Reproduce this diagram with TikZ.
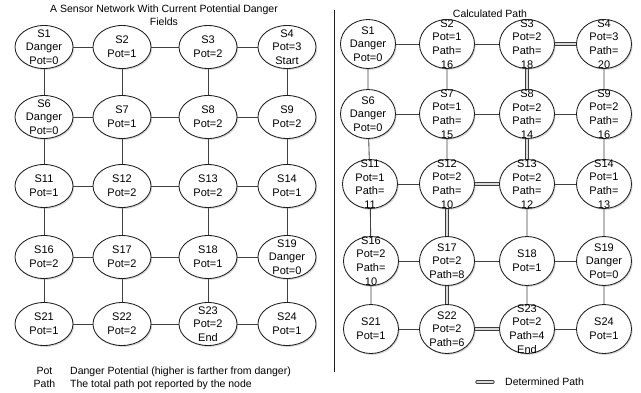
\documentclass[tikz,border=0pt]{standalone}
\usepackage{fontspec}
\setmainfont{Liberation Sans}
\usetikzlibrary{shapes.geometric,shadows,backgrounds}
\definecolor{colEdge}{HTML}{1E1E1E}
\definecolor{colLine}{HTML}{404040}
\definecolor{colRoute}{HTML}{3C3C3C}
\definecolor{colRouteIn}{HTML}{DADADA}
\def\nodefont{\fontsize{11pt}{13.6pt}\selectfont}
\def\capfont{\fontsize{10.5pt}{13.4pt}\selectfont}
\tikzset{
  sensor/.style={ellipse, draw=colEdge, line width=0.85pt, fill=white, inner sep=0pt,
    minimum width=58pt, minimum height=43pt,
    drop shadow={shadow xshift=1.2pt, shadow yshift=-1.4pt, opacity=0.3}},
  psensor/.style={sensor, minimum width=55pt, minimum height=49pt},
  link/.style={draw=colLine, line width=0.85pt},
  route/.style={draw=colRoute, line width=0.9pt, double=colRouteIn, double distance=1.5pt},
}
\newcommand{\lsens}[4]{%
  \node[sensor, label={[font=\nodefont, align=center]center:{#4}}] (#1) at (#2,#3) {};}
\newcommand{\rsens}[4]{%
  \node[psensor, label={[font=\nodefont, align=center]center:{#4}}] (#1) at (#2,#3) {};}

\begin{document}
\begin{tikzpicture}[x=1pt,y=-1pt]
\useasboundingbox (0,0) rectangle (641,392);

% ===================== LEFT: current potential danger fields =====================
\node[font=\capfont, align=center] (ltitle) at (164,15)
  {A Sensor Network With Current Potential Danger\\Fields};

\lsens{l1}{44}{47}{S1\\Danger\\Pot=0}
\lsens{l2}{122}{47}{S2\\Pot=1}
\lsens{l3}{208}{47}{S3\\Pot=2}
\lsens{l4}{287}{47}{S4\\Pot=3\\Start}

\lsens{l6}{44}{117}{S6\\Danger\\Pot=0}
\lsens{l7}{122}{117}{S7\\Pot=1}
\lsens{l8}{208}{117}{S8\\Pot=2}
\lsens{l9}{287}{117}{S9\\Pot=2}

\lsens{l11}{44}{186}{S11\\Pot=1}
\lsens{l12}{122}{186}{S12\\Pot=2}
\lsens{l13}{208}{186}{S13\\Pot=2}
\lsens{l14}{287}{186}{S14\\Pot=1}

\lsens{l16}{44}{257}{S16\\Pot=2}
\lsens{l17}{122}{257}{S17\\Pot=2}
\lsens{l18}{208}{257}{S18\\Pot=1}
\lsens{l19}{287}{257}{S19\\Danger\\Pot=0}

\lsens{l21}{44}{324}{S21\\Pot=1}
\lsens{l22}{122}{324}{S22\\Pot=2}
\lsens{l23}{208}{324}{S23\\Pot=2\\End}
\lsens{l24}{287}{324}{S24\\Pot=1}

\begin{scope}[on background layer]
\draw[link] (l1) -- (l2) (l2) -- (l3) (l3) -- (l4)
  (l6) -- (l7) (l7) -- (l8) (l8) -- (l9)
  (l11) -- (l12) (l12) -- (l13) (l13) -- (l14)
  (l16) -- (l17) (l17) -- (l18) (l18) -- (l19)
  (l21) -- (l22) (l22) -- (l23) (l23) -- (l24);
\draw[link] (l1) -- (l6) (l2) -- (l7) (l3) -- (l8) (l4) -- (l9)
  (l6) -- (l11) (l7) -- (l12) (l8) -- (l13) (l9) -- (l14)
  (l11) -- (l16) (l12) -- (l17) (l13) -- (l18) (l14) -- (l19)
  (l16) -- (l21) (l17) -- (l22) (l18) -- (l23) (l19) -- (l24);
\end{scope}

\node[font=\capfont, anchor=base] (kpot) at (44.5,374) {Pot};
\node[font=\capfont, anchor=base] (kpath) at (44.5,387) {Path};
\node[font=\capfont, anchor=base west, inner sep=0pt] (kpottxt) at (70,374)
  {Danger Potential (higher is farther from danger)};
\node[font=\capfont, anchor=base west, inner sep=0pt] (kpathtxt) at (70,387)
  {The total path pot reported by the node};

% ===================== divider =====================
\coordinate (divtop) at (334,10);
\coordinate (divbot) at (334,372);
\draw[colEdge, line width=0.8pt] (divtop) -- (divbot);

% ===================== RIGHT: calculated path =====================
\node[font=\capfont] (rtitle) at (490,14) {Calculated Path};

\rsens{r1}{368}{44}{S1\\Danger\\Pot=0}
\rsens{r2}{447}{44}{S2\\Pot=1\\Path=\\16}
\rsens{r3}{527}{44}{S3\\Pot=2\\Path=\\18}
\rsens{r4}{604}{44}{S4\\Pot=3\\Path=\\20}

\rsens{r6}{368}{114}{S6\\Danger\\Pot=0}
\rsens{r7}{447}{114}{S7\\Pot=1\\Path=\\15}
\rsens{r8}{527}{114}{S8\\Pot=2\\Path=\\14}
\rsens{r9}{604}{114}{S9\\Pot=2\\Path=\\16}

\rsens{r11}{370}{184}{S11\\Pot=1\\Path=\\11}
\rsens{r12}{447}{184}{S12\\Pot=2\\Path=\\10}
\rsens{r13}{527}{184}{S13\\Pot=2\\Path=\\12}
\rsens{r14}{604}{184}{S14\\Pot=1\\Path=\\13}

\rsens{r16}{371}{261}{S16\\Pot=2\\Path=\\10}
\rsens{r17}{447}{261}{S17\\Pot=2\\Path=8}
\rsens{r18}{527}{261}{S18\\Pot=1}
\rsens{r19}{604}{261}{S19\\Danger\\Pot=0}

\rsens{r21}{371}{329}{S21\\Pot=1}
\rsens{r22}{447}{329}{S22\\Pot=2\\Path=6}
\rsens{r23}{527}{329}{S23\\Pot=2\\Path=4\\End}
\rsens{r24}{604}{329}{S24\\Pot=1}

\begin{scope}[on background layer]
\draw[link] (r1) -- (r2) (r2) -- (r3)
  (r6) -- (r7) (r7) -- (r8) (r8) -- (r9)
  (r11) -- (r12) (r13) -- (r14)
  (r16) -- (r17) (r17) -- (r18) (r18) -- (r19)
  (r21) -- (r22) (r23) -- (r24);
\draw[link] (r1) -- (r6) (r2) -- (r7) (r4) -- (r9)
  (r6) -- (r11) (r7) -- (r12) (r9) -- (r14)
  (r11) -- (r16) (r13) -- (r18) (r14) -- (r19)
  (r16) -- (r21) (r18) -- (r23) (r19) -- (r24);

% determined path
\draw[route] (r4) -- (r3);
\draw[route] (r3) -- (r8);
\draw[route] (r8) -- (r13);
\draw[route] (r13) -- (r12);
\draw[route] (r12) -- (r17);
\draw[route] (r17) -- (r22);
\draw[route] (r22) -- (r23);
\end{scope}

\coordinate (lega) at (477,382);
\coordinate (legb) at (493,382);
\draw[route, line cap=round] (lega) -- (legb);
\node[font=\capfont, anchor=west, inner sep=0pt] (legtxt) at (505,382) {Determined Path};
\end{tikzpicture}
\end{document}
